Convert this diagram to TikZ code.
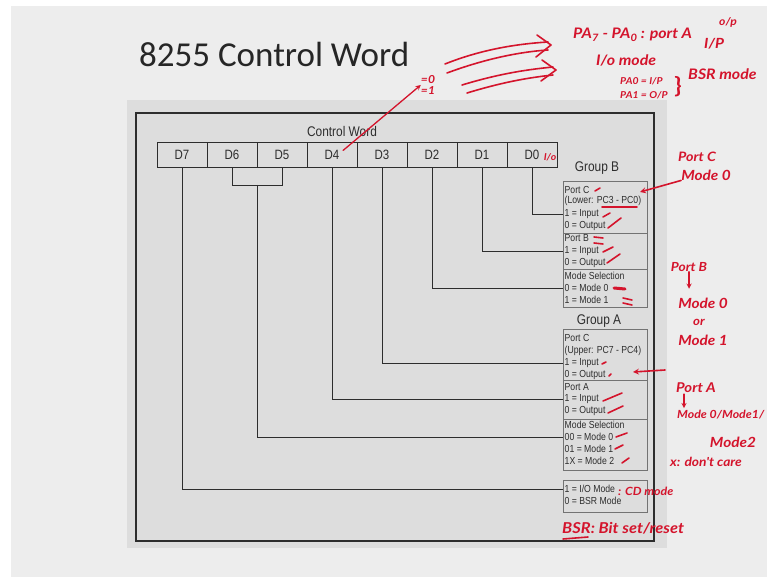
\documentclass[tikz,border=0pt]{standalone}
\usepackage{fontspec}
\setmainfont{Liberation Sans}
\newfontfamily\figfont{Liberation Sans}[FakeStretch=0.85]
\newfontfamily\titlefont{Carlito}
\newfontfamily\handfont{Lato}[FakeStretch=1.1]
\usetikzlibrary{arrows.meta}
\definecolor{pen}{RGB}{212,20,44}
\definecolor{scan}{RGB}{221,221,221}
\definecolor{slide}{RGB}{237,237,237}
\definecolor{ink}{RGB}{45,45,45}
\begin{document}
\begin{tikzpicture}[x=1pt, y=-1pt, >=stealth,
    every node/.style={font=\figfont\fontsize{10.2}{12}\selectfont, text=ink, inner sep=2pt},
    bitcell/.style={draw=ink, line width=.9pt, minimum width=50pt, minimum height=25pt, inner sep=0pt,
        font=\figfont\fontsize{13.5}{15}\selectfont},
    rowtxt/.style={anchor=west, inner sep=1.5pt},
    grouptxt/.style={font=\figfont\fontsize{14}{16}\selectfont},
    wire/.style={draw=ink, line width=.9pt},
    sbox/.style={draw=black!55, line width=.7pt},
    handnote/.style={text=pen, inner sep=0pt, font=\handfont\bfseries\itshape\fontsize{#1}{#1}\selectfont},
    handnote/.default=12,
    penline/.style={draw=pen, line width=1.6pt, line cap=round, line join=round}]
    \useasboundingbox (0,0) rectangle (767,577);
    \fill[white] (0,0) rectangle (767,577);
    \fill[slide] (11,6) rectangle (767,577);
    \fill[scan] (127,100) rectangle (667,548);
    \draw[ink, line width=1.3pt] (136,113) rectangle (654,541);

    \node[anchor=base west, inner sep=0, text=black!85, font=\titlefont\fontsize{35}{40}\selectfont] (title) at (139,67) {8255 Control Word};
    \node[grouptxt] (cw) at (342,131) {Control Word};

    \foreach \b [count=\i from 0] in {7,6,...,0}
        \node[bitcell] (d\b) at ({182+50*\i},154.5) {D\b};
    \draw[wire] (d6.south) -- ++(0,18) coordinate (d6b) -| (d5.south);
    \coordinate (d65) at (257,185);

    % group B
    \node[grouptxt] (gB) at (597,168) {Group B};
    \draw[sbox] (563,181) rectangle (647,307) (563,233) -- (647,233) (563,269) -- (647,269);
    \foreach \y/\n/\t in {190/bpc/Port C, 201/bpcl/(Lower: PC3 - PC0), 214/bpci/1 = Input, 226/bpco/0 = Output,
        238/bpb/Port B, 251/bpbi/1 = Input, 263/bpbo/0 = Output,
        276/bms/Mode Selection, 288/bm0/0 = Mode 0, 300/bm1/1 = Mode 1}
        \node[rowtxt] (\n) at (563,\y) {\t};

    % group A
    \node[grouptxt] (gA) at (599,321) {Group A};
    \draw[sbox] (563,329) rectangle (647,470) (563,380) -- (647,380) (563,419) -- (647,419);
    \foreach \y/\n/\t in {338/apc/Port C, 351/apcu/(Upper: PC7 - PC4), 363/apci/1 = Input, 375/apco/0 = Output,
        387/apa/Port A, 399/apai/1 = Input, 411/apao/0 = Output,
        425/ams/Mode Selection, 437/am0/00 = Mode 0, 449/am1/01 = Mode 1, 461/am2/1X = Mode 2}
        \node[rowtxt] (\n) at (563,\y) {\t};

    \draw[sbox] (563,480) rectangle (647,512);
    \node[rowtxt] (io1) at (563,489) {1 = I/O Mode};
    \node[rowtxt] (io0) at (563,501) {0 = BSR Mode};

    \draw[wire] (d0.south) |- (bpci.west);
    \draw[wire] (d1.south) |- (bpbi.west);
    \draw[wire] (d2.south) |- (bm0.west);
    \draw[wire] (d3.south) |- (apci.west);
    \draw[wire] (d4.south) |- (apai.west);
    \draw[wire] (d65) |- (am0.west);
    \draw[wire] (d7.south) |- (io1.west);

    % pen notes
    \node[handnote=9.5] (io) at (550,157) {I/o};
    \node[handnote=11, align=left] (eq) at (428,85) {=0\\[0pt]=1};
    \draw[penline, line width=1.3pt, ->] (d4.center) ++(11,-4) -- (eq.west);
    \draw[penline] (445,64) .. controls (480,50) and (515,44) .. (548,42);
    \draw[penline] (447,73) .. controls (482,60) and (517,52) .. (548,50);
    \draw[penline] (537,35) -- (551,45) -- (536,57);
    \draw[penline] (462,85) .. controls (495,75) and (522,70) .. (553,67);
    \draw[penline] (467,93) .. controls (500,83) and (525,78) .. (553,75);
    \draw[penline] (542,60) -- (556,70) -- (541,81);

    \node[handnote=14.5, anchor=west] (pa) at (573,35) {PA\textsubscript{7} - PA\textsubscript{0} : port A};
    \node[handnote=11, anchor=west] (op) at (719,22) {o/p};
    \node[handnote=14, anchor=west] (ip) at (704,44) {I/P};
    \node[handnote=14.5, anchor=west] (iom) at (596,60) {I/o mode};
    \node[handnote=9.5, anchor=west] (pa0) at (620,81) {PA0 = I/P};
    \node[handnote=9.5, anchor=west] (pa1) at (620,95) {PA1 = O/P};
    \node[handnote, font=\handfont\bfseries\fontsize{22}{22}\selectfont] (brace) at (678,87) {\}};
    \node[handnote=14.5, anchor=west] (bsrm) at (688,74) {BSR mode};

    \node[handnote=13] (npc) at (697,157) {Port C};
    \node[handnote=14] (npcm) at (706,175) {Mode 0};
    \coordinate (pctip) at (640,192);
    \draw[penline, ->] (npcm.south west) -- (pctip);
    \draw[penline] (602,207) -- (637,207);

    \node[handnote=12.5] (npb) at (689,267) {Port B};
    \draw[penline, line width=1.3pt, ->] (npb.south) -- ++(0,17) coordinate (npbd);
    \node[handnote=14] (npbm0) at (703,303) {Mode 0};
    \node[handnote=12] (npbor) at (699,322) {or};
    \node[handnote=14] (npbm1) at (703,340) {Mode 1};

    \coordinate (pcatip) at (633,372);
    \coordinate (pcafrom) at (665,370);
    \draw[penline, ->] (pcafrom) -- (pcatip);

    \node[handnote=13.5] (npa) at (696,388) {Port A};
    \draw[penline, line width=1.3pt, ->] (npa.south) ++(-12,1) -- ++(0,14);
    \node[handnote=11.2, anchor=west] (npam) at (677,415) {Mode 0/Mode1/};
    \node[handnote=14] (npam2) at (733,442) {Mode2};
    \node[handnote=12.5] (ndc) at (706,462) {x: don't care};
    \node[handnote=11.3, anchor=west] (ncd) at (618,491) {: CD mode};
    \node[handnote=15, anchor=west] (nbsr) at (562,528) {BSR: Bit set/reset};
    \draw[penline] (563,539) -- (588,537);

    \foreach \xa/\ya/\xb/\yb in {595/191/600/188, 603/217/610/213, 608/228/621/218,
        594/237/603/238, 594/243/603/244, 603/252/613/247, 607/263/620/254,
        623/298/632/300, 623/303/632/305,
        602/364/606/362, 609/376/611/374, 603/401/622/393, 608/413/623/406,
        616/437/627/433, 615/449/623/445, 622/463/629/458}
        \draw[penline] (\xa,\ya) -- (\xb,\yb);
    \draw[penline, line width=3pt] (614,288) -- (625,289);
\end{tikzpicture}
\end{document}
